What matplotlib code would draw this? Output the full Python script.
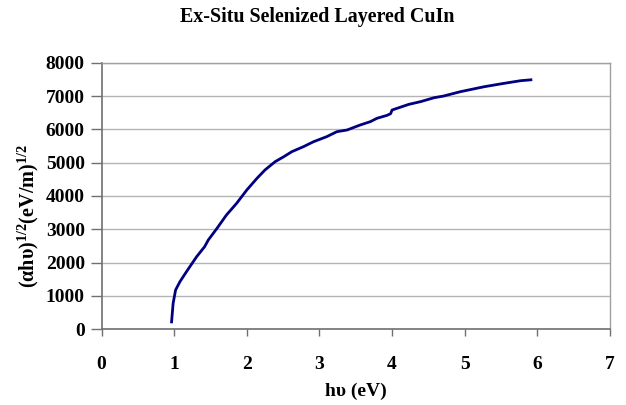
import matplotlib
matplotlib.use("Agg")
import matplotlib.pyplot as plt

# Data
hv = [0.963, 0.986, 1.02, 1.08, 1.17, 1.31, 1.42, 1.47, 1.59, 1.72, 1.86, 2.00,
      2.14, 2.25, 2.39, 2.51, 2.62, 2.78, 2.92, 3.10, 3.24, 3.38, 3.56, 3.70,
      3.79, 3.93, 3.98, 4.00, 4.23, 4.39, 4.58, 4.71, 4.94, 5.27, 5.54, 5.77, 5.93]
alpha_hv = [180, 780, 1180, 1430, 1730, 2180, 2480, 2680, 3030, 3430, 3780, 4180,
            4530, 4780, 5030, 5180, 5330, 5480, 5630, 5780, 5930, 5980, 6130, 6230,
            6330, 6420, 6470, 6580, 6750, 6830, 6950, 7000, 7130, 7280, 7380, 7460, 7490]
x_ticks = [0, 1, 2, 3, 4, 5, 6, 7]
y_ticks = [0, 1000, 2000, 3000, 4000, 5000, 6000, 7000, 8000]

plt.rcParams['font.family'] = ['Liberation Serif', 'DejaVu Serif']
plt.rcParams['font.weight'] = 'bold'
plt.rcParams['mathtext.fontset'] = 'custom'
plt.rcParams['mathtext.rm'] = 'Liberation Serif:bold'
plt.rcParams['mathtext.it'] = 'Liberation Serif:bold'
plt.rcParams['mathtext.bf'] = 'Liberation Serif:bold'

fig = plt.figure(figsize=(6.26, 4.05), dpi=100)
ax = fig.add_axes([101.5/626, (405-329.3)/405, (610-101.5)/626, (329.3-62.7)/405])

ax.plot(hv, alpha_hv, color='#000080', lw=2.0, solid_capstyle='butt')

ax.set_xlim(0, 7)
ax.set_ylim(0, 8000)
ax.set_xticks(x_ticks)
ax.set_yticks(y_ticks)
ax.grid(axis='y', color='#b4b4b4', lw=1.0)
ax.set_axisbelow(True)

for s in ['top', 'right']:
    ax.spines[s].set_color('#a0a0a0')
    ax.spines[s].set_linewidth(1.0)
for s in ['left', 'bottom']:
    ax.spines[s].set_color('#707070')
    ax.spines[s].set_linewidth(1.2)

ax.tick_params(axis='y', direction='out', length=8, width=1.0, color='#707070',
               labelsize=14, pad=4)
ax.tick_params(axis='x', direction='out', length=5, width=1.0, color='#707070',
               labelsize=14, pad=14)
for lbl in ax.get_xticklabels() + ax.get_yticklabels():
    lbl.set_fontweight('bold')

fig.text(317/626, 1 - 17/405, 'Ex-Situ Selenized Layered CuIn', ha='center', va='center',
         fontsize=14.4, fontweight='bold')
fig.text(356/626, 1 - 391/405, 'h\u03c5 (eV)', ha='center', va='center',
         fontsize=14, fontweight='bold')
fig.text(28/626, 1 - 216/405, '(\u03b1h\u03c5)$^{1/2}$(eV/m)$^{1/2}$', ha='center', va='center',
         rotation=90, fontsize=14.5, fontweight='bold')

fig.savefig('out.png', dpi=100)
